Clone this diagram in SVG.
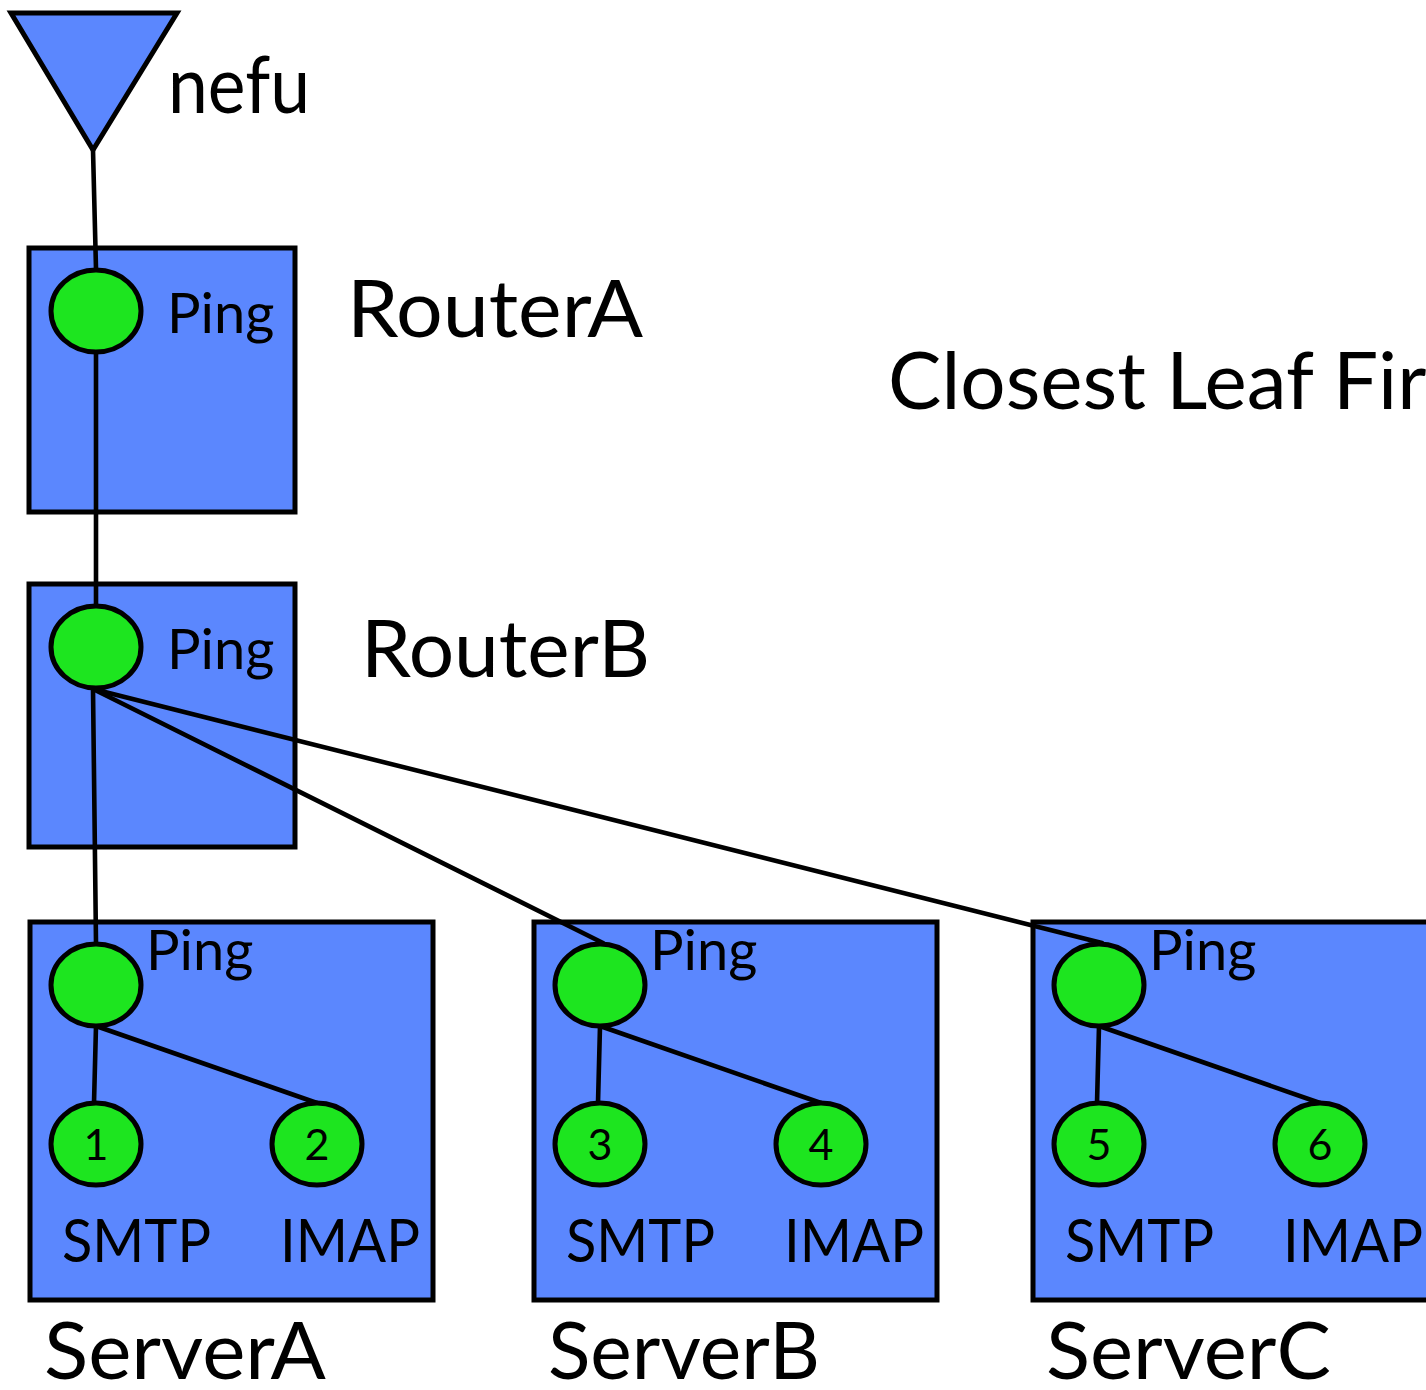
<svg xmlns="http://www.w3.org/2000/svg" width="1426" height="1390" viewBox="0 0 1426 1390">
<style>
.box{fill:#5b87fe;stroke:#000;stroke-width:5}
.svc{fill:#1de51f;stroke:#000;stroke-width:5}
.ln{fill:none;stroke:#000;stroke-width:4.6;stroke-linecap:round}
text{font-family:Lato,"Open Sans","Liberation Sans",sans-serif;fill:#000}
.big{font-size:80px}
.ping{font-size:56px}
.proto{font-size:60px}
.num{font-size:43px;text-anchor:middle}
</style>
<rect width="1426" height="1390" fill="#fff"/>
<g id="nefu">
<polygon points="11,13 177,13 93,150" fill="#5b87fe" stroke="#000" stroke-width="5" stroke-linejoin="miter"/>
<text class="big" x="168" y="113" textLength="142" lengthAdjust="spacingAndGlyphs">nefu</text>
</g>
<g id="RouterA">
<rect class="box" x="29" y="248" width="266" height="264"/>
<ellipse class="svc" cx="96" cy="311" rx="45" ry="41"/>
<text class="ping" x="167" y="333">Ping</text>
<text class="big" x="347" y="337" textLength="296" lengthAdjust="spacingAndGlyphs">RouterA</text>
</g>
<g id="RouterB">
<rect class="box" x="29" y="584" width="266" height="263"/>
<ellipse class="svc" cx="96" cy="647" rx="45" ry="41"/>
<text class="ping" x="167" y="669">Ping</text>
<text class="big" x="361" y="677" textLength="289" lengthAdjust="spacingAndGlyphs">RouterB</text>
</g>
<g id="title">
<text class="big" x="888" y="409">Closest Leaf First</text>
</g>
<g id="ServerA">
<rect class="box" x="30" y="922" width="403" height="378"/>
<line class="ln" x1="96" y1="1026" x2="94" y2="1103"/>
<line class="ln" x1="96" y1="1026" x2="317" y2="1103"/>
<ellipse class="svc" cx="96" cy="985" rx="45" ry="41"/>
<ellipse class="svc" cx="96" cy="1144" rx="45" ry="41"/>
<ellipse class="svc" cx="317" cy="1144" rx="45" ry="41"/>
<text class="ping" x="146" y="970">Ping</text>
<text class="num" x="96" y="1160">1</text>
<text class="num" x="317" y="1160">2</text>
<text class="proto" x="62" y="1262" textLength="149" lengthAdjust="spacingAndGlyphs">SMTP</text>
<text class="proto" x="280" y="1262" textLength="140" lengthAdjust="spacingAndGlyphs">IMAP</text>
<text class="big" x="44" y="1379" textLength="282" lengthAdjust="spacingAndGlyphs">ServerA</text>
</g>
<g id="ServerB">
<rect class="box" x="534" y="922" width="403" height="378"/>
<line class="ln" x1="600" y1="1026" x2="598" y2="1103"/>
<line class="ln" x1="600" y1="1026" x2="821" y2="1103"/>
<ellipse class="svc" cx="600" cy="985" rx="45" ry="41"/>
<ellipse class="svc" cx="600" cy="1144" rx="45" ry="41"/>
<ellipse class="svc" cx="821" cy="1144" rx="45" ry="41"/>
<text class="ping" x="650" y="970">Ping</text>
<text class="num" x="600" y="1160">3</text>
<text class="num" x="821" y="1160">4</text>
<text class="proto" x="566" y="1262" textLength="149" lengthAdjust="spacingAndGlyphs">SMTP</text>
<text class="proto" x="784" y="1262" textLength="140" lengthAdjust="spacingAndGlyphs">IMAP</text>
<text class="big" x="548" y="1379" textLength="272" lengthAdjust="spacingAndGlyphs">ServerB</text>
</g>
<g id="ServerC">
<rect class="box" x="1033" y="922" width="403" height="378"/>
<line class="ln" x1="1099" y1="1026" x2="1097" y2="1103"/>
<line class="ln" x1="1099" y1="1026" x2="1320" y2="1103"/>
<ellipse class="svc" cx="1099" cy="985" rx="45" ry="41"/>
<ellipse class="svc" cx="1099" cy="1144" rx="45" ry="41"/>
<ellipse class="svc" cx="1320" cy="1144" rx="45" ry="41"/>
<text class="ping" x="1149" y="970">Ping</text>
<text class="num" x="1099" y="1160">5</text>
<text class="num" x="1320" y="1160">6</text>
<text class="proto" x="1065" y="1262" textLength="149" lengthAdjust="spacingAndGlyphs">SMTP</text>
<text class="proto" x="1283" y="1262" textLength="140" lengthAdjust="spacingAndGlyphs">IMAP</text>
<text class="big" x="1046" y="1379" textLength="285" lengthAdjust="spacingAndGlyphs">ServerC</text>
</g>
<g id="connectors">
<line class="ln" x1="93" y1="150" x2="96" y2="269"/>
<line class="ln" x1="96" y1="353" x2="96" y2="605"/>
<line class="ln" x1="93" y1="689" x2="96" y2="943"/>
<line class="ln" x1="93" y1="689" x2="603" y2="943"/>
<line class="ln" x1="93" y1="689" x2="1102" y2="943"/>
</g>
</svg>
